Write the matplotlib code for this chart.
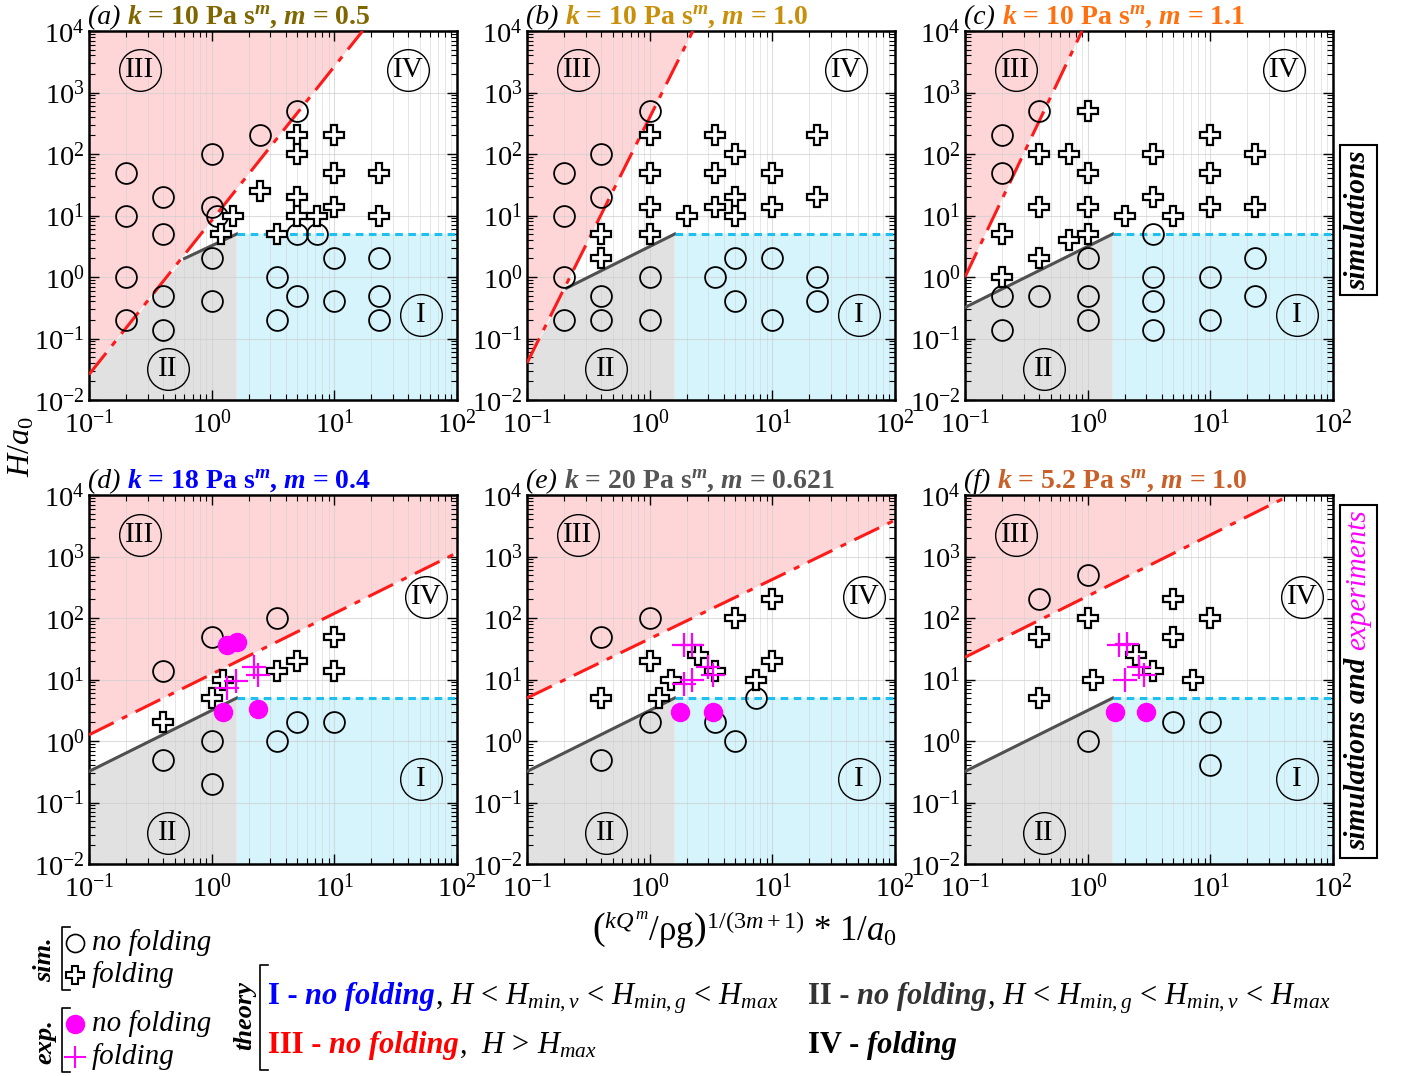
import matplotlib
matplotlib.use("Agg")
import matplotlib.pyplot as plt
from matplotlib.lines import Line2D
from matplotlib.patches import Polygon, Rectangle

plt.rcParams["font.family"] = "Liberation Serif"
plt.rcParams["mathtext.fontset"] = "custom"
plt.rcParams["mathtext.rm"] = "Liberation Serif"
plt.rcParams["mathtext.it"] = "Liberation Serif:italic"
plt.rcParams["mathtext.bf"] = "Liberation Serif:bold"
plt.rcParams["mathtext.bfit"] = "Liberation Serif:bold:italic"

# ---- data: (x, H/a0) pairs ----
a_sim_no = [(0.2, 50), (0.2, 10), (0.2, 1), (0.2, 0.2), (0.4, 20), (0.4, 5), (0.4, 0.5),
            (0.4, 0.14), (1, 100), (1, 14), (1.1, 10), (1, 2), (1, 0.4), (2.5, 200),
            (5, 500), (3.4, 1), (3.4, 0.2), (5, 5), (5, 0.5), (7.2, 5), (10, 2), (10, 0.4),
            (23, 2), (23, 0.5), (23, 0.2)]
a_sim_fold = [(1.2, 5), (1.5, 10), (2.5, 25), (3.4, 5), (5, 200), (5, 100), (5, 20), (5, 10),
              (7.2, 10), (10, 200), (10, 50), (10, 14), (23, 50), (23, 10)]

b_sim_no = [(0.2, 50), (0.2, 10), (0.2, 1), (0.2, 0.2), (0.4, 100), (0.4, 20), (0.4, 0.5),
            (0.4, 0.2), (1, 500), (1, 1), (1, 0.2), (3.4, 1), (5, 2), (5, 0.4), (10, 2),
            (10, 0.2), (23, 1), (23, 0.4)]
b_sim_fold = [(0.4, 5), (0.4, 2), (1, 200), (1, 50), (1, 14), (1, 5), (2, 10), (3.4, 200),
              (3.4, 50), (3.4, 14), (5, 100), (5, 20), (5, 10), (10, 50), (10, 14), (23, 200),
              (23, 20)]

c_sim_no = [(0.4, 500), (0.2, 200), (0.2, 50), (3.4, 5), (1, 2), (0.2, 0.5), (0.4, 0.5),
            (1, 0.5), (1, 0.2), (0.2, 0.14), (3.4, 1), (3.4, 0.4), (3.4, 0.14), (10, 1),
            (10, 0.2), (23, 2), (23, 0.5)]
c_sim_fold = [(0.2, 5), (0.2, 1), (0.4, 100), (0.4, 14), (0.4, 2), (0.7, 100), (0.7, 4),
              (1, 500), (1, 50), (1, 14), (1, 5), (2, 10), (3.4, 100), (3.4, 20), (5, 10),
              (10, 200), (10, 50), (10, 14), (23, 100), (23, 14)]

d_sim_no = [(0.4, 14), (0.4, 0.5), (1, 50), (1, 1), (1, 0.2), (3.4, 100), (3.4, 1), (5, 2),
            (10, 2)]
d_sim_fold = [(0.4, 2), (1, 5), (1.23, 10), (3.4, 14), (5, 20), (10, 50), (10, 14)]
d_exp_no = [(1.33, 36), (1.6, 41), (1.23, 3.0), (2.4, 3.3)]
d_exp_fold = [(1.33, 7.3), (1.58, 9.5), (2.2, 16), (2.4, 12)]

e_sim_no = [(0.4, 50), (0.4, 0.5), (1, 100), (1, 2), (3.4, 2), (5, 1), (7.3, 5)]
e_sim_fold = [(0.4, 5), (1, 20), (1.2, 5), (1.5, 10), (2.5, 25), (3.4, 14), (5, 100),
              (7.3, 10), (10, 200), (10, 20)]
e_exp_no = [(1.77, 3), (3.3, 3)]
e_exp_fold = [(1.9, 36), (2.2, 37), (1.9, 8.5), (2.2, 10), (3.0, 16), (3.3, 12)]

f_sim_no = [(0.4, 200), (1, 500), (1, 1), (5, 2), (10, 2), (10, 0.4)]
f_sim_fold = [(0.4, 50), (0.4, 5), (1, 100), (1.1, 10), (2.5, 25), (3.4, 14), (5, 200),
              (5, 50), (7.2, 10), (10, 100)]
f_exp_no = [(1.66, 3), (3.0, 3)]
f_exp_fold = [(1.8, 36), (2.1, 38), (2.0, 10), (2.6, 16), (2.9, 12)]

# regime boundaries: H_max (red), H_min,g (grey), H_min,v level (cyan)
red_a = [(0.1, 0.026), (17, 1e4)]
red_b = [(0.1, 0.04), (2.25, 1e4)]
red_c = [(0.1, 1.0), (0.9, 1e4)]
red_d = [(0.1, 1.26), (100, 1150)]
red_e = [(0.1, 5.0), (100, 3900)]
red_f = [(0.1, 23), (45, 1e4)]
gray_a = [(0.6, 2.0), (1.6, 5)]
gray_b = [(0.21, 0.66), (1.6, 5)]
gray_top = [(0.1, 0.32), (1.6, 5)]
h_cyan = 5
x_cyan = 1.6

titles = ["10", "10", "10", "18", "20", "5.2"]
m_vals = ["0.5", "1.0", "1.1", "0.4", "0.621", "1.0"]
title_colors = ["#806600", "#C8900A", "#FF7010", "#0000FF", "#555555", "#C8602A"]

W, H = 1403, 1076
fig = plt.figure(figsize=(W / 100, H / 100), dpi=100)
rend = fig.canvas.get_renderer()


def fx(px):
    return px / W


def fy(py):
    return 1 - py / H


def chain(x, y, pieces, vertical=False):
    for s, props in pieces:
        t = fig.text(fx(x), fy(y), s, ha="left", va="baseline", **props) if not vertical else \
            fig.text(fx(x), fy(y), s, ha="center", va="bottom", rotation=90, **props)
        bb = t.get_window_extent(rend)
        if vertical:
            y = H - bb.y1
        else:
            x = bb.x1


panels = [
    ("a", 89, 31, red_a, gray_a, a_sim_no, a_sim_fold, None, None),
    ("b", 527, 31, red_b, gray_b, b_sim_no, b_sim_fold, None, None),
    ("c", 965, 31, red_c, gray_top, c_sim_no, c_sim_fold, None, None),
    ("d", 89, 495, red_d, gray_top, d_sim_no, d_sim_fold, d_exp_no, d_exp_fold),
    ("e", 527, 495, red_e, gray_top, e_sim_no, e_sim_fold, e_exp_no, e_exp_fold),
    ("f", 965, 495, red_f, gray_top, f_sim_no, f_sim_fold, f_exp_no, f_exp_fold),
]

for i, (tag, px, py, red, gray, sno, sfold, eno, efold) in enumerate(panels):
    ax = fig.add_axes([fx(px), fy(py + 369), 368 / W, 369 / H])
    ax.set_xscale("log")
    ax.set_yscale("log")
    ax.set_xlim(0.1, 100)
    ax.set_ylim(0.01, 1e4)

    # shaded regimes
    pink = [red[0], red[1], (red[1][0], 1e4), (red[0][0], 1e4)]
    ax.add_patch(Polygon(pink, closed=True, fc="#FFD6D8", ec="none", zorder=1))
    grey = [(0.1, 0.01)] + ([red[0]] if gray[0][0] > 0.1 else []) + gray + [(gray[1][0], 0.01)]
    ax.add_patch(Polygon(grey, closed=True, fc="#E1E1E1", ec="none", zorder=1))
    ax.fill_between([x_cyan, 100], 0.01, h_cyan, color="#D5F4FC", lw=0, zorder=1)

    ax.plot([p[0] for p in red], [p[1] for p in red], color="#FF1A1A", lw=2.2,
            dashes=(9, 3, 2, 3), zorder=3)
    ax.plot([p[0] for p in gray], [p[1] for p in gray], color="#505050", lw=2.2, zorder=3)
    ax.plot([x_cyan, 100], [h_cyan, h_cyan], color="#20C0EE", lw=2.2, dashes=(2.5, 1.8), zorder=3)

    # regime labels
    row_top = i < 3
    lab_pos = [("III", 0.26, 2300 if row_top else 2200),
               ("IV", 40 if row_top else 56, 2300 if row_top else 220),
               ("I", 51, 0.24), ("II", 0.44, 0.032)]
    for s, lx, ly in lab_pos:
        ax.plot([lx], [ly], "o", ms=30, mfc="none", mec="k", mew=1.0, zorder=4)
        ax.text(lx, ly, s, ha="center", va="center", fontsize=21, zorder=4)

    ax.plot([p[0] for p in sno], [p[1] for p in sno], "o", ms=15, mfc="none", mec="k",
            mew=1.3, zorder=5)
    ax.plot([p[0] for p in sfold], [p[1] for p in sfold], "P", ms=15, mfc="white", mec="k",
            mew=1.6, zorder=5)
    if eno is not None:
        ax.plot([p[0] for p in eno], [p[1] for p in eno], "o", ms=13, mfc="#FF00FF",
                mec="#FF00FF", zorder=6)
        ax.plot([p[0] for p in efold], [p[1] for p in efold], "+", ms=17, color="#FF00FF",
                mew=1.6, zorder=6)

    ax.set_axisbelow("line")
    ax.grid(True, which="major", color="#CFCFCF", lw=0.8, alpha=0.7)
    ax.grid(True, which="minor", axis="x", color="#CFCFCF", lw=0.6, alpha=0.6)
    ax.tick_params(which="both", direction="in", top=True, right=True, labelsize=20.5)
    ax.tick_params(which="major", length=7, width=1)
    ax.tick_params(which="minor", length=4, width=0.8)
    ax.tick_params(axis="y", pad=3)
    ax.tick_params(axis="x", pad=7)
    for sp in ax.spines.values():
        sp.set_linewidth(1.8)

    col = title_colors[i]
    chain(px - 1, py - 7, [
        (f"({tag}) ", dict(fontsize=20, style="italic", color="k")),
        (r"$\mathbfit{k}$ = " + titles[i] + r" Pa s$^{\mathbfit{m}}$, $\mathbfit{m}$ = " + m_vals[i],
         dict(fontsize=20, fontweight="bold", color=col)),
    ])

# axis labels
fig.text(fx(22), fy(447), r"$H/a_0$", rotation=90, ha="center", va="center", fontsize=23)
fig.text(fx(745), fy(930), r"$\left({}^{kQ^m}/\mathrm{\rho g}\right)^{1/(3m+1)}$ $*$ 1/$a_0$",
         ha="center", va="center", fontsize=25)

# right-hand boxes
fig.add_artist(Rectangle((fx(1340), fy(295)), 37 / W, 150 / H, transform=fig.transFigure,
                         fill=False, ec="k", lw=1.5))
fig.text(fx(1358), fy(220), "simulations", rotation=90, ha="center", va="center",
         fontsize=21, fontweight="bold", style="italic")
fig.add_artist(Rectangle((fx(1340), fy(858)), 37 / W, 353 / H, transform=fig.transFigure,
                         fill=False, ec="k", lw=1.5))
chain(1358, 850, [("simulations and ", dict(fontsize=21, fontweight="bold", style="italic")),
                  ("experiments", dict(fontsize=21, style="italic", color="#FF00FF"))],
      vertical=True)


# bottom legend
def bracket(x, y0, y1):
    fig.add_artist(Line2D([fx(x + 8), fx(x), fx(x), fx(x + 8)], [fy(y0), fy(y0), fy(y1), fy(y1)],
                          transform=fig.transFigure, color="k", lw=1.2))


bracket(62, 927, 990)
bracket(62, 1008, 1072)
bracket(260, 965, 1070)
fig.text(fx(45), fy(960), "sim.", rotation=90, ha="center", va="center", fontsize=19,
         fontweight="bold", style="italic")
fig.text(fx(45), fy(1042), "exp.", rotation=90, ha="center", va="center", fontsize=19,
         fontweight="bold", style="italic")
fig.text(fx(245), fy(1016), "theory", rotation=90, ha="center", va="center", fontsize=19,
         fontweight="bold", style="italic")

legend_rows = [(943, "o", dict(ms=13, mfc="none", mec="k", mew=1.2)),
               (975, "P", dict(ms=13, mfc="white", mec="k", mew=1.5)),
               (1024, "o", dict(ms=13, mfc="#FF00FF", mec="#FF00FF")),
               (1057, "+", dict(ms=16, color="#FF00FF", mew=1.5))]
for (ly, mk, kw), txt in zip(legend_rows, ["no folding", "folding", "no folding", "folding"]):
    fig.add_artist(Line2D([fx(75)], [fy(ly)], marker=mk, transform=fig.transFigure, **kw))
    fig.text(fx(92), fy(ly + 7), txt, ha="left", va="baseline", fontsize=21, style="italic")

bold = dict(fontsize=22, fontweight="bold")
bit = dict(fontsize=22, fontweight="bold", style="italic")
plain = dict(fontsize=22, color="k")
chain(268, 1004, [("I - ", dict(bold, color="#0000FF")), ("no folding", dict(bit, color="#0000FF")),
                  (r", $H\,<\,H_{min,v}\,<\,H_{min,g}\,<\,H_{max}$", plain)])
chain(808, 1004, [("II - ", dict(bold, color="#333333")), ("no folding", dict(bit, color="#333333")),
                  (r", $H\,<\,H_{min,g}\,<\,H_{min,v}\,<\,H_{max}$", plain)])
chain(268, 1053, [("III - ", dict(bold, color="#FF0000")), ("no folding", dict(bit, color="#FF0000")),
                  (r",  $H\,>\,H_{max}$", plain)])
chain(808, 1053, [("IV - ", dict(bold, color="k")), ("folding", dict(bit, color="k"))])

fig.savefig("out.png", dpi=100)
